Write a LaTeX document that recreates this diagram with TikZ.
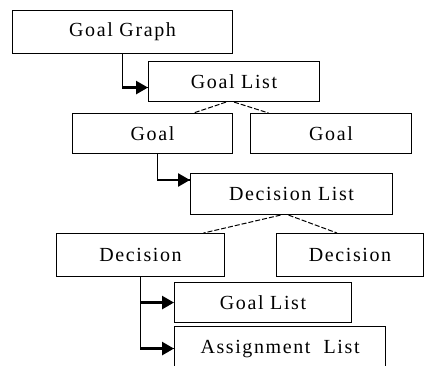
\documentclass[tikz,border=0pt]{standalone}
\usepackage{fontspec}
\setmainfont{Liberation Serif}[LetterSpace=8]
\usetikzlibrary{arrows.meta}
\tikzset{
    box/.style={draw, line width=1.1pt, inner sep=0pt, anchor=north west,
        font=\fontsize{20}{23}\selectfont},
    link/.style={line width=1.1pt},
    feed/.style={line width=2.6pt, -{Triangle[length=12pt,width=13pt]}},
    tie/.style={line width=1pt, dash pattern=on 5pt off 2pt}
}
\begin{document}
\begin{tikzpicture}[x=1pt, y=-1pt]
    \useasboundingbox (0,0) rectangle (428,365);
    % boxes
    \node[box, minimum width=220pt, minimum height=43pt] (graph) at (12,10) {Goal Graph};
    \node[box, minimum width=171pt, minimum height=40pt] (glist) at (148,61) {Goal List};
    \node[box, minimum width=160pt, minimum height=40pt] (goalA) at (72,113) {Goal};
    \node[box, minimum width=161pt, minimum height=40pt] (goalB) at (250,113) {Goal};
    \node[box, minimum width=202pt, minimum height=41pt] (dlist) at (190,173) {Decision List};
    \node[box, minimum width=168pt, minimum height=43pt] (decA) at (56,233) {Decision};
    \node[box, minimum width=147pt, minimum height=43pt] (decB) at (276,233) {Decision};
    \node[box, minimum width=177pt, minimum height=40pt] (glistB) at (174,282) {Goal List};
    \node[box, minimum width=211pt, minimum height=44pt] (alist) at (174,326) {Assignment~ List};
    % containment arrows
    \draw[link] (graph.south) |- ([yshift=-6pt]glist.west) coordinate (g1);
    \draw[feed] ([xshift=-26pt]g1) -- (g1);
    \draw[link] ([xshift=5pt]goalA.south) |- ([yshift=-7pt]dlist.north west) coordinate (g2);
    \draw[feed] ([xshift=-33pt]g2) -- (g2);
    \draw[link] (decA.south) |- (alist.west);
    \draw[feed] ([xshift=-34pt]glistB.west) -- (glistB.west);
    \draw[feed] ([xshift=-34pt]alist.west) -- (alist.west);
    % list members
    \draw[tie] ([xshift=-8pt]glist.south) -- ([xshift=41pt]goalA.north);
    \draw[tie] (glist.south) -- ([xshift=-62.5pt]goalB.north);
    \draw[tie] ([xshift=-11pt]dlist.south) -- ([xshift=63pt]decA.north);
    \draw[tie] ([xshift=-3pt]dlist.south) -- ([xshift=-13pt]decB.north);
\end{tikzpicture}
\end{document}
